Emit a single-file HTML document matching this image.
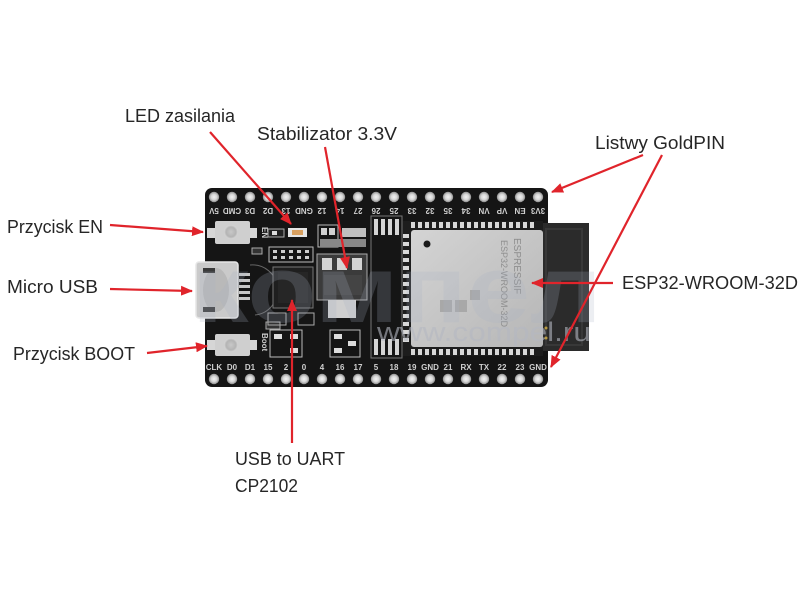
<!DOCTYPE html>
<html><head><meta charset="utf-8">
<style>
html,body{margin:0;padding:0;background:#fff;}
svg{display:block;}
.lbl{font-family:"Liberation Sans",sans-serif;font-size:18px;fill:#262626;}
.pn{font-family:"Liberation Sans",sans-serif;font-size:8px;font-weight:bold;fill:#d0d0d0;text-anchor:middle;}
.wm{font-family:"Liberation Sans",sans-serif;}
</style></head><body>
<svg width="800" height="600" viewBox="0 0 800 600" xmlns="http://www.w3.org/2000/svg">
<defs>
<marker id="ah" markerWidth="12" markerHeight="10" refX="11" refY="5" orient="auto" markerUnits="userSpaceOnUse"><path d="M0,0 L12,5 L0,10 z" fill="#e0242b"/></marker>
<radialGradient id="pg"><stop offset="0" stop-color="#f2f2f2"/><stop offset="0.55" stop-color="#d6d6d6"/><stop offset="1" stop-color="#8e8e8e"/></radialGradient>
<linearGradient id="sh" x1="0" y1="0" x2="1" y2="1"><stop offset="0" stop-color="#d4d4d4"/><stop offset="1" stop-color="#b6b6b6"/></linearGradient>
<radialGradient id="bt"><stop offset="0" stop-color="#c8c8c8"/><stop offset="0.7" stop-color="#b4b4b4"/><stop offset="1" stop-color="#d6d6d6"/></radialGradient>
</defs>
<rect width="800" height="600" fill="#fff"/>

<!-- board -->
<rect x="205" y="188" width="343" height="199" rx="7" fill="#151515"/>
<!-- antenna -->
<rect x="540" y="223" width="49" height="128" fill="#2b2b2b"/>
<rect x="546" y="229" width="36" height="116" fill="none" stroke="#383838" stroke-width="2"/>
<circle cx="546" cy="328" r="1.5" fill="#b89a40"/>
<circle cx="546" cy="338" r="1.5" fill="#b89a40"/>

<!-- module PCB -->
<rect x="403" y="221" width="140" height="135" fill="#1d1d1d"/>
<g fill="#d8d8d8">
<rect x="411" y="222" width="4" height="6"/><rect x="418" y="222" width="4" height="6"/><rect x="425" y="222" width="4" height="6"/><rect x="432" y="222" width="4" height="6"/><rect x="439" y="222" width="4" height="6"/><rect x="446" y="222" width="4" height="6"/><rect x="453" y="222" width="4" height="6"/><rect x="460" y="222" width="4" height="6"/><rect x="467" y="222" width="4" height="6"/><rect x="474" y="222" width="4" height="6"/><rect x="481" y="222" width="4" height="6"/><rect x="488" y="222" width="4" height="6"/><rect x="495" y="222" width="4" height="6"/><rect x="502" y="222" width="4" height="6"/><rect x="509" y="222" width="4" height="6"/><rect x="516" y="222" width="4" height="6"/><rect x="523" y="222" width="4" height="6"/><rect x="530" y="222" width="4" height="6"/>
<rect x="411" y="349" width="4" height="6"/><rect x="418" y="349" width="4" height="6"/><rect x="425" y="349" width="4" height="6"/><rect x="432" y="349" width="4" height="6"/><rect x="439" y="349" width="4" height="6"/><rect x="446" y="349" width="4" height="6"/><rect x="453" y="349" width="4" height="6"/><rect x="460" y="349" width="4" height="6"/><rect x="467" y="349" width="4" height="6"/><rect x="474" y="349" width="4" height="6"/><rect x="481" y="349" width="4" height="6"/><rect x="488" y="349" width="4" height="6"/><rect x="495" y="349" width="4" height="6"/><rect x="502" y="349" width="4" height="6"/><rect x="509" y="349" width="4" height="6"/><rect x="516" y="349" width="4" height="6"/><rect x="523" y="349" width="4" height="6"/><rect x="530" y="349" width="4" height="6"/>
<rect x="403" y="234" width="6" height="4"/><rect x="403" y="242" width="6" height="4"/><rect x="403" y="250" width="6" height="4"/><rect x="403" y="258" width="6" height="4"/><rect x="403" y="266" width="6" height="4"/><rect x="403" y="274" width="6" height="4"/><rect x="403" y="282" width="6" height="4"/><rect x="403" y="290" width="6" height="4"/><rect x="403" y="298" width="6" height="4"/><rect x="403" y="306" width="6" height="4"/><rect x="403" y="314" width="6" height="4"/><rect x="403" y="322" width="6" height="4"/><rect x="403" y="330" width="6" height="4"/><rect x="403" y="338" width="6" height="4"/>
</g>
<!-- shield -->
<rect x="411" y="230" width="132" height="117" rx="3" fill="url(#sh)"/>
<circle cx="427" cy="244" r="3.5" fill="#1a1a1a"/>
<text class="wm" x="0" y="0" font-size="9" fill="#8e8e8e" transform="translate(501,240) rotate(90)">ESP32-WROOM-32D</text>
<text class="wm" x="0" y="0" font-size="10" fill="#8e8e8e" transform="translate(514,238) rotate(90)">ESPRESSIF</text>
<g fill="#a8a8a8"><rect x="470" y="290" width="10" height="10"/><rect x="440" y="300" width="12" height="12"/><rect x="455" y="300" width="12" height="12"/></g>

<!-- pads left of module -->
<g fill="#d4d4d4">
<rect x="374" y="219" width="4" height="16"/><rect x="381" y="219" width="4" height="16"/><rect x="388" y="219" width="4" height="16"/><rect x="395" y="219" width="4" height="16"/>
<rect x="374" y="339" width="4" height="16"/><rect x="381" y="339" width="4" height="16"/><rect x="388" y="339" width="4" height="16"/><rect x="395" y="339" width="4" height="16"/>
</g>
<rect x="371" y="216" width="31" height="142" fill="none" stroke="#777" stroke-width="1"/>

<!-- EN button -->
<rect x="207" y="228" width="50" height="10" fill="#d6d6d6"/>
<rect x="215" y="221" width="35" height="23" rx="2" fill="#cfcfcf"/>
<circle cx="231" cy="232" r="7" fill="url(#bt)"/>
<!-- BOOT button -->
<rect x="207" y="340" width="50" height="10" fill="#d6d6d6"/>
<rect x="215" y="334" width="35" height="22" rx="2" fill="#cfcfcf"/>
<circle cx="231" cy="345" r="7" fill="url(#bt)"/>
<text class="wm" x="0" y="0" font-size="8" font-weight="bold" fill="#ccc" transform="translate(262,333) rotate(90)">Boot</text>
<text class="wm" x="0" y="0" font-size="8" font-weight="bold" fill="#ccc" transform="translate(262,227) rotate(90)">EN</text>

<!-- micro USB -->
<rect x="196" y="262" width="42" height="56" rx="3" fill="#cacaca" stroke="#e6e6e6" stroke-width="1.5"/>
<ellipse cx="216" cy="290" rx="13" ry="22" fill="#b9b9b9"/>
<rect x="203" y="268" width="12" height="5" fill="#3a3a3a"/>
<rect x="203" y="307" width="12" height="5" fill="#3a3a3a"/>
<g fill="#c6c6c6"><rect x="239" y="273" width="11" height="3"/><rect x="239" y="279" width="11" height="3"/><rect x="239" y="285" width="11" height="3"/><rect x="239" y="291" width="11" height="3"/><rect x="239" y="297" width="11" height="3"/></g>
<path d="M250 265 A25 25 0 0 1 255 315" fill="none" stroke="#666" stroke-width="1"/>

<!-- LED & small parts -->
<rect x="268" y="229" width="16" height="8" fill="#222" stroke="#aaa" stroke-width="1"/>
<rect x="272" y="231" width="5" height="4" fill="#ddd"/>
<rect x="288" y="228" width="19" height="9" fill="#e6e6e6"/>
<rect x="292" y="230" width="11" height="5" fill="#d8a060"/>
<rect x="269" y="247" width="44" height="15" fill="none" stroke="#bbb" stroke-width="1"/>
<g fill="#cfcfcf"><rect x="273" y="250" width="4" height="3"/><rect x="281" y="250" width="4" height="3"/><rect x="289" y="250" width="4" height="3"/><rect x="297" y="250" width="4" height="3"/><rect x="305" y="250" width="4" height="3"/><rect x="273" y="256" width="4" height="3"/><rect x="281" y="256" width="4" height="3"/><rect x="289" y="256" width="4" height="3"/><rect x="297" y="256" width="4" height="3"/><rect x="305" y="256" width="4" height="3"/></g>
<rect x="252" y="248" width="10" height="6" fill="#333" stroke="#aaa" stroke-width="1"/>
<rect x="266" y="322" width="14" height="7" fill="#333" stroke="#aaa" stroke-width="1"/>

<!-- CP2102 -->
<rect x="273" y="267" width="40" height="41" fill="#1f1f1f" stroke="#777" stroke-width="1"/>
<rect x="278" y="272" width="30" height="31" fill="#262626"/>

<!-- regulator -->
<rect x="318" y="225" width="20" height="22" fill="none" stroke="#bbb" stroke-width="1"/>
<rect x="321" y="228" width="6" height="7" fill="#d0d0d0"/><rect x="329" y="228" width="6" height="7" fill="#d0d0d0"/>
<rect x="342" y="228" width="24" height="9" fill="#bfbfbf"/>
<rect x="320" y="239" width="46" height="8" fill="#888"/>
<rect x="317" y="254" width="50" height="46" fill="#3b3b3b" stroke="#aaa" stroke-width="1"/>
<rect x="322" y="258" width="10" height="12" fill="#d4d4d4"/>
<rect x="337" y="258" width="10" height="12" fill="#d4d4d4"/>
<rect x="352" y="258" width="10" height="12" fill="#d4d4d4"/>
<rect x="328" y="300" width="28" height="18" fill="#cfcfcf"/>
<rect x="324" y="275" width="38" height="20" fill="#444"/>

<!-- small SOT parts bottom -->
<rect x="270" y="330" width="32" height="27" fill="none" stroke="#bbb" stroke-width="1"/>
<rect x="274" y="334" width="8" height="5" fill="#ddd"/><rect x="290" y="334" width="8" height="5" fill="#ddd"/><rect x="290" y="348" width="8" height="5" fill="#ddd"/>
<rect x="330" y="330" width="30" height="27" fill="none" stroke="#bbb" stroke-width="1"/>
<rect x="334" y="334" width="8" height="5" fill="#ddd"/><rect x="348" y="341" width="8" height="5" fill="#ddd"/><rect x="334" y="348" width="8" height="5" fill="#ddd"/>
<rect x="268" y="313" width="18" height="12" fill="none" stroke="#aaa" stroke-width="1"/>
<rect x="298" y="313" width="16" height="12" fill="none" stroke="#aaa" stroke-width="1"/>

<!-- watermark -->
<text class="wm" x="192" y="322" font-size="96" font-weight="bold" fill="#a8b0c4" fill-opacity="0.22" textLength="410" lengthAdjust="spacingAndGlyphs">компел</text>
<text class="wm" x="377" y="341" font-size="27" fill="#b4b8c2" fill-opacity="0.6" textLength="214" lengthAdjust="spacingAndGlyphs">www.compel.ru</text>

<!-- pins top -->
<g fill="url(#pg)">
<circle cx="214" cy="197" r="5.2"/><circle cx="232" cy="197" r="5.2"/><circle cx="250" cy="197" r="5.2"/><circle cx="268" cy="197" r="5.2"/><circle cx="286" cy="197" r="5.2"/><circle cx="304" cy="197" r="5.2"/><circle cx="322" cy="197" r="5.2"/><circle cx="340" cy="197" r="5.2"/><circle cx="358" cy="197" r="5.2"/><circle cx="376" cy="197" r="5.2"/><circle cx="394" cy="197" r="5.2"/><circle cx="412" cy="197" r="5.2"/><circle cx="430" cy="197" r="5.2"/><circle cx="448" cy="197" r="5.2"/><circle cx="466" cy="197" r="5.2"/><circle cx="484" cy="197" r="5.2"/><circle cx="502" cy="197" r="5.2"/><circle cx="520" cy="197" r="5.2"/><circle cx="538" cy="197" r="5.2"/>
<circle cx="214" cy="379" r="5.2"/><circle cx="232" cy="379" r="5.2"/><circle cx="250" cy="379" r="5.2"/><circle cx="268" cy="379" r="5.2"/><circle cx="286" cy="379" r="5.2"/><circle cx="304" cy="379" r="5.2"/><circle cx="322" cy="379" r="5.2"/><circle cx="340" cy="379" r="5.2"/><circle cx="358" cy="379" r="5.2"/><circle cx="376" cy="379" r="5.2"/><circle cx="394" cy="379" r="5.2"/><circle cx="412" cy="379" r="5.2"/><circle cx="430" cy="379" r="5.2"/><circle cx="448" cy="379" r="5.2"/><circle cx="466" cy="379" r="5.2"/><circle cx="484" cy="379" r="5.2"/><circle cx="502" cy="379" r="5.2"/><circle cx="520" cy="379" r="5.2"/><circle cx="538" cy="379" r="5.2"/>
</g>
<!-- top labels (upside down) -->
<g class="pn">
<text class="pn" x="214" y="208" transform="rotate(180 214 208)">5V</text>
<text class="pn" x="232" y="208" transform="rotate(180 232 208)">CMD</text>
<text class="pn" x="250" y="208" transform="rotate(180 250 208)">D3</text>
<text class="pn" x="268" y="208" transform="rotate(180 268 208)">D2</text>
<text class="pn" x="286" y="208" transform="rotate(180 286 208)">13</text>
<text class="pn" x="304" y="208" transform="rotate(180 304 208)">GND</text>
<text class="pn" x="322" y="208" transform="rotate(180 322 208)">12</text>
<text class="pn" x="340" y="208" transform="rotate(180 340 208)">14</text>
<text class="pn" x="358" y="208" transform="rotate(180 358 208)">27</text>
<text class="pn" x="376" y="208" transform="rotate(180 376 208)">26</text>
<text class="pn" x="394" y="208" transform="rotate(180 394 208)">25</text>
<text class="pn" x="412" y="208" transform="rotate(180 412 208)">33</text>
<text class="pn" x="430" y="208" transform="rotate(180 430 208)">32</text>
<text class="pn" x="448" y="208" transform="rotate(180 448 208)">35</text>
<text class="pn" x="466" y="208" transform="rotate(180 466 208)">34</text>
<text class="pn" x="484" y="208" transform="rotate(180 484 208)">VN</text>
<text class="pn" x="502" y="208" transform="rotate(180 502 208)">VP</text>
<text class="pn" x="520" y="208" transform="rotate(180 520 208)">EN</text>
<text class="pn" x="538" y="208" transform="rotate(180 538 208)">3V3</text>
</g>
<!-- bottom labels -->
<g>
<text class="pn" x="214" y="370">CLK</text><text class="pn" x="232" y="370">D0</text><text class="pn" x="250" y="370">D1</text><text class="pn" x="268" y="370">15</text><text class="pn" x="286" y="370">2</text><text class="pn" x="304" y="370">0</text><text class="pn" x="322" y="370">4</text><text class="pn" x="340" y="370">16</text><text class="pn" x="358" y="370">17</text><text class="pn" x="376" y="370">5</text><text class="pn" x="394" y="370">18</text><text class="pn" x="412" y="370">19</text><text class="pn" x="430" y="370">GND</text><text class="pn" x="448" y="370">21</text><text class="pn" x="466" y="370">RX</text><text class="pn" x="484" y="370">TX</text><text class="pn" x="502" y="370">22</text><text class="pn" x="520" y="370">23</text><text class="pn" x="538" y="370">GND</text>
</g>

<!-- arrows -->
<g stroke="#e0242b" stroke-width="2.2" fill="none" marker-end="url(#ah)">
<line x1="210" y1="132" x2="291" y2="224"/>
<line x1="325" y1="147" x2="347" y2="268"/>
<line x1="643" y1="155" x2="552" y2="192"/>
<line x1="662" y1="155" x2="551" y2="367"/>
<line x1="613" y1="283" x2="532" y2="283"/>
<line x1="110" y1="225" x2="203" y2="232"/>
<line x1="110" y1="289" x2="192" y2="291"/>
<line x1="147" y1="353" x2="207" y2="346"/>
<line x1="292" y1="443" x2="292" y2="300"/>
</g>

<!-- labels -->
<text class="lbl" x="125" y="122" textLength="110" lengthAdjust="spacingAndGlyphs">LED zasilania</text>
<text class="lbl" x="257" y="140" textLength="140" lengthAdjust="spacingAndGlyphs">Stabilizator 3.3V</text>
<text class="lbl" x="595" y="149" textLength="130" lengthAdjust="spacingAndGlyphs">Listwy GoldPIN</text>
<text class="lbl" x="622" y="289" textLength="176" lengthAdjust="spacingAndGlyphs">ESP32-WROOM-32D</text>
<text class="lbl" x="7" y="233" textLength="96" lengthAdjust="spacingAndGlyphs">Przycisk EN</text>
<text class="lbl" x="7" y="293" textLength="91" lengthAdjust="spacingAndGlyphs">Micro USB</text>
<text class="lbl" x="13" y="360" textLength="122" lengthAdjust="spacingAndGlyphs">Przycisk BOOT</text>
<text class="lbl" x="235" y="465" textLength="110" lengthAdjust="spacingAndGlyphs">USB to UART</text>
<text class="lbl" x="235" y="492" textLength="63" lengthAdjust="spacingAndGlyphs">CP2102</text>
</svg>
</body></html>
